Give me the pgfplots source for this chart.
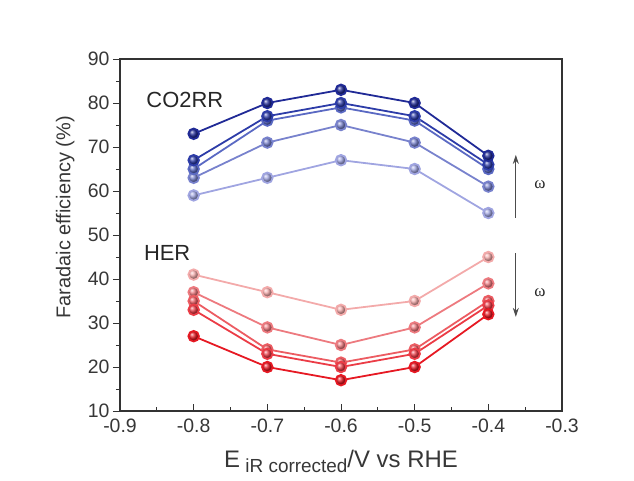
\documentclass[border=0pt]{standalone}
\usepackage{pgfplots}
\pgfplotsset{compat=1.18}
\usetikzlibrary{arrows.meta}
\usepackage{fontspec}
\setmainfont{Liberation Sans}
\newfontfamily\serifomega{Liberation Serif}
\definecolor{B1}{RGB}{32,42,150}
\definecolor{B2}{RGB}{45,60,168}
\definecolor{B3}{RGB}{90,105,195}
\definecolor{B4}{RGB}{120,130,205}
\definecolor{B5}{RGB}{160,165,225}
\definecolor{R1}{RGB}{230,25,35}
\definecolor{R2}{RGB}{235,60,70}
\definecolor{R3}{RGB}{236,92,98}
\definecolor{R4}{RGB}{237,122,127}
\definecolor{R5}{RGB}{243,170,170}
\definecolor{txt}{RGB}{55,55,55}
\begin{document}
\begin{tikzpicture}
\useasboundingbox (-120bp,-70bp) rectangle (514bp,411bp);
\begin{axis}[
  at={(0,0)}, anchor=south west,
  scale only axis, width=442bp, height=352bp,
  xmin=-0.9, xmax=-0.3, ymin=10, ymax=90,
  xtick={-0.9,-0.8,...,-0.3},
  ytick={10,20,...,90},
  minor x tick num=1, minor y tick num=1,
  xticklabels={-0.9,-0.8,-0.7,-0.6,-0.5,-0.4,-0.3},
  yticklabel style={/pgf/number format/assume math mode=true},
  xticklabel style={yshift=-4bp},
  axis line style={line width=1.2pt, black!80},
  every tick/.style={black!80, line width=1pt},
  major tick length=7bp, minor tick length=4bp,
  xtick pos=bottom, ytick pos=left,
  xtick align=inside, ytick align=outside,
  tick label style={font=\fontsize{19.5}{22}\selectfont, text=txt},
  xlabel={E\raisebox{-5bp}{\fontsize{19}{20}\selectfont\ iR corrected}/V vs RHE},
  ylabel={Faradaic efficiency (\%)},
  xlabel style={font=\fontsize{24}{26}\selectfont, text=txt, at={(axis description cs:0.5,0)}, anchor=north, yshift=-36bp},
  ylabel style={font=\fontsize{20}{22}\selectfont, text=txt, at={(axis description cs:0,0.55)}, anchor=south, yshift=42bp},
  clip=false,
  every axis plot/.append style={line width=1.8pt, mark=ball, mark size=5.3bp},
]
\addplot[B5, mark options={ball color=B5}] coordinates {(-0.8,59) (-0.7,63) (-0.6,67) (-0.5,65) (-0.4,55)};
\addplot[B4, mark options={ball color=B4}] coordinates {(-0.8,63) (-0.7,71) (-0.6,75) (-0.5,71) (-0.4,61)};
\addplot[B3, mark options={ball color=B3}] coordinates {(-0.8,65) (-0.7,76) (-0.6,79) (-0.5,76) (-0.4,65)};
\addplot[B2, mark options={ball color=B2}] coordinates {(-0.8,67) (-0.7,77) (-0.6,80) (-0.5,77) (-0.4,66)};
\addplot[B1, mark options={ball color=B1}] coordinates {(-0.8,73) (-0.7,80) (-0.6,83) (-0.5,80) (-0.4,68)};
\addplot[R5, mark options={ball color=R5}] coordinates {(-0.8,41) (-0.7,37) (-0.6,33) (-0.5,35) (-0.4,45)};
\addplot[R4, mark options={ball color=R4}] coordinates {(-0.8,37) (-0.7,29) (-0.6,25) (-0.5,29) (-0.4,39)};
\addplot[R3, mark options={ball color=R3}] coordinates {(-0.8,35) (-0.7,24) (-0.6,21) (-0.5,24) (-0.4,35)};
\addplot[R2, mark options={ball color=R2}] coordinates {(-0.8,33) (-0.7,23) (-0.6,20) (-0.5,23) (-0.4,34)};
\addplot[R1, mark options={ball color=R1}] coordinates {(-0.8,27) (-0.7,20) (-0.6,17) (-0.5,20) (-0.4,32)};
\node[font=\fontsize{22}{24}\selectfont, text=black!85] at (axis cs:-0.812,80.7) {CO2RR};
\node[font=\fontsize{22}{24}\selectfont, text=black!85] at (axis cs:-0.836,45.9) {HER};
\draw[-{Stealth[length=9bp,width=6bp]}, line width=1pt, black!70] (axis cs:-0.3627,53.9) -- (axis cs:-0.3627,68.2);
\draw[-{Stealth[length=9bp,width=6bp]}, line width=1pt, black!70] (axis cs:-0.3627,45.9) -- (axis cs:-0.3627,31.4);
\node[font=\serifomega\fontsize{17}{19}\selectfont, text=black!85] at (axis cs:-0.33,61.4) {ω};
\node[font=\serifomega\fontsize{17}{19}\selectfont, text=black!85] at (axis cs:-0.33,37.0) {ω};
\end{axis}
\end{tikzpicture}
\end{document}
